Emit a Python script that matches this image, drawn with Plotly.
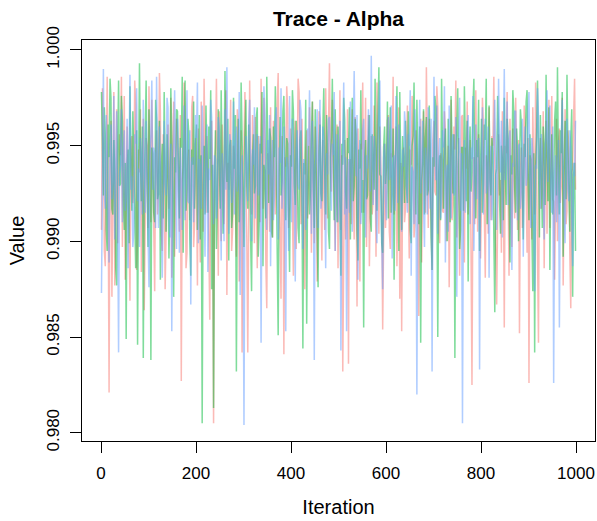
import plotly.graph_objects as go


# %%%%%%%%%%%%%%%%%%%%%%%%%%%%%%%%%
# Trace plot of alpha, 3 chains (every 2nd iteration)

iterations = list(range(1, 1001, 2))

chain_1 = [
    0.9906, 0.9980, 0.9951, 0.9895, 0.9887, 0.9964, 0.9986, 0.9926, 0.9821, 0.9946, 0.9963, 0.9871, 0.9930, 0.9978, 0.9877, 0.9941, 0.9969, 0.9899, 0.9922, 0.9956,
    0.9945, 0.9986, 0.9897, 0.9934, 0.9976, 0.9880, 0.9915, 0.9960, 0.9938, 0.9906, 0.9869, 0.9953, 0.9955, 0.9920, 0.9927, 0.9984, 0.9971, 0.9885, 0.9901, 0.9948,
    0.9936, 0.9969, 0.9884, 0.9925, 0.9964, 0.9864, 0.9917, 0.9954, 0.9950, 0.9907, 0.9981, 0.9929, 0.9910, 0.9974, 0.9940, 0.9890, 0.9874, 0.9945, 0.9958, 0.9914,
    0.9926, 0.9988, 0.9968, 0.9904, 0.9895, 0.9956, 0.9946, 0.9875, 0.9912, 0.9939, 0.9961, 0.9917, 0.9934, 0.9975, 0.9881, 0.9949, 0.9973, 0.9892, 0.9921, 0.9964,
    0.9953, 0.9916, 0.9905, 0.9966, 0.9827, 0.9932, 0.9939, 0.9983, 0.9965, 0.9886, 0.9894, 0.9943, 0.9948, 0.9911, 0.9925, 0.9970, 0.9976, 0.9897, 0.9909, 0.9954,
    0.9932, 0.9877, 0.9959, 0.9924, 0.9889, 0.9973, 0.9943, 0.9905, 0.9985, 0.9935, 0.9915, 0.9955, 0.9936, 0.9900, 0.9859, 0.9949, 0.9963, 0.9919, 0.9805, 0.9940,
    0.9949, 0.9985, 0.9920, 0.9882, 0.9968, 0.9931, 0.9900, 0.9961, 0.9939, 0.9909, 0.9956, 0.9979, 0.9872, 0.9941, 0.9927, 0.9964, 0.9974, 0.9895, 0.9906, 0.9950,
    0.9945, 0.9916, 0.9892, 0.9969, 0.9960, 0.9879, 0.9924, 0.9958, 0.9842, 0.9938, 0.9951, 0.9978, 0.9932, 0.9901, 0.9842, 0.9948, 0.9984, 0.9927, 0.9914, 0.9966,
    0.9938, 0.9899, 0.9965, 0.9926, 0.9886, 0.9955, 0.9944, 0.9910, 0.9985, 0.9940, 0.9917, 0.9975, 0.9950, 0.9890, 0.9865, 0.9946, 0.9935, 0.9905, 0.9970, 0.9929,
    0.9902, 0.9963, 0.9946, 0.9914, 0.9925, 0.9973, 0.9988, 0.9934, 0.9911, 0.9870, 0.9955, 0.9927, 0.9841, 0.9944, 0.9939, 0.9981, 0.9969, 0.9907, 0.9921, 0.9959,
    0.9949, 0.9917, 0.9882, 0.9951, 0.9963, 0.9896, 0.9930, 0.9985, 0.9978, 0.9936, 0.9909, 0.9964, 0.9941, 0.9904, 0.9875, 0.9948, 0.9958, 0.9912, 0.9924, 0.9970,
    0.9939, 0.9894, 0.9973, 0.9927, 0.9899, 0.9960, 0.9950, 0.9879, 0.9919, 0.9968, 0.9964, 0.9922, 0.9890, 0.9953, 0.9934, 0.9906, 0.9980, 0.9940, 0.9912, 0.9961,
    0.9993, 0.9938, 0.9926, 0.9974, 0.9946, 0.9911, 0.9895, 0.9956, 0.9961, 0.9886, 0.9935, 0.9979, 0.9906, 0.9945, 0.9832, 0.9930, 0.9953, 0.9901, 0.9920, 0.9969,
    0.9836, 0.9941, 0.9943, 0.9909, 0.9969, 0.9929, 0.9901, 0.9965, 0.9938, 0.9866, 0.9959, 0.9925, 0.9879, 0.9951, 0.9948, 0.9983, 0.9915, 0.9936, 0.9975, 0.9897,
    0.9931, 0.9966, 0.9887, 0.9935, 0.9955, 0.9914, 0.9922, 0.9971, 0.9945, 0.9892, 0.9983, 0.9944, 0.9904, 0.9960, 0.9940, 0.9921, 0.9854, 0.9930, 0.9951, 0.9907,
    0.9925, 0.9963, 0.9966, 0.9905, 0.9896, 0.9946, 0.9944, 0.9986, 0.9914, 0.9927, 0.9960, 0.9887, 0.9936, 0.9970, 0.9870, 0.9941, 0.9853, 0.9934, 0.9949, 0.9910,
    0.9917, 0.9954, 0.9971, 0.9924, 0.9891, 0.9948, 0.9940, 0.9976, 0.9956, 0.9902, 0.9910, 0.9958, 0.9946, 0.9919, 0.9861, 0.9938, 0.9964, 0.9889, 0.9929, 0.9968,
    0.9950, 0.9915, 0.9991, 0.9941, 0.9907, 0.9964, 0.9936, 0.9896, 0.9885, 0.9953, 0.9963, 0.9926, 0.9924, 0.9981, 0.9970, 0.9905, 0.9899, 0.9946, 0.9943, 0.9916,
    0.9915, 0.9968, 0.9958, 0.9900, 0.9934, 0.9950, 0.9876, 0.9939, 0.9974, 0.9911, 0.9919, 0.9960, 0.9948, 0.9984, 0.9902, 0.9932, 0.9954, 0.9882, 0.9931, 0.9965,
    0.9966, 0.9925, 0.9889, 0.9949, 0.9938, 0.9973, 0.9914, 0.9941, 0.9953, 0.9895, 0.9825, 0.9930, 0.9944, 0.9909, 0.9979, 0.9939, 0.9905, 0.9956, 0.9935, 0.9891,
    0.9921, 0.9975, 0.9961, 0.9915, 0.9881, 0.9945, 0.9941, 0.9904, 0.9970, 0.9934, 0.9911, 0.9955, 0.9950, 0.9986, 0.9926, 0.9897, 0.9867, 0.9940, 0.9956, 0.9924,
    0.9932, 0.9894, 0.9968, 0.9939, 0.9855, 0.9950, 0.9946, 0.9978, 0.9916, 0.9882, 0.9964, 0.9929, 0.9897, 0.9959, 0.9940, 0.9912, 0.9975, 0.9943, 0.9906, 0.9953,
    0.9852, 0.9935, 0.9949, 0.9907, 0.9924, 0.9971, 0.9960, 0.9927, 0.9894, 0.9954, 0.9826, 0.9945, 0.9943, 0.9901, 0.9970, 0.9938, 0.9914, 0.9983, 0.9936, 0.9890,
    0.9847, 0.9944, 0.9954, 0.9917, 0.9927, 0.9968, 0.9886, 0.9938, 0.9963, 0.9904, 0.9934, 0.9974, 0.9907, 0.9949, 0.9976, 0.9922, 0.9921, 0.9880, 0.9945, 0.9964,
    0.9900, 0.9951, 0.9959, 0.9920, 0.9930, 0.9975, 0.9877, 0.9941, 0.9969, 0.9909, 0.9916, 0.9958, 0.9948, 0.9894, 0.9865, 0.9936, 0.9939, 0.9965, 0.9985, 0.9927,
]

chain_2 = [
    0.9978, 0.9950, 0.9924, 0.9970, 0.9955, 0.9906, 0.9895, 0.9961, 0.9944, 0.9985, 0.9975, 0.9917, 0.9914, 0.9953, 0.9935, 0.9886, 0.9877, 0.9946, 0.9984, 0.9929,
    0.9930, 0.9976, 0.9963, 0.9921, 0.9906, 0.9941, 0.9849, 0.9938, 0.9948, 0.9899, 0.9981, 0.9940, 0.9916, 0.9968, 0.9939, 0.9904, 0.9886, 0.9958, 0.9846, 0.9934,
    0.9993, 0.9943, 0.9921, 0.9960, 0.9839, 0.9926, 0.9954, 0.9984, 0.9932, 0.9897, 0.9969, 0.9936, 0.9838, 0.9949, 0.9946, 0.9915, 0.9910, 0.9974, 0.9964, 0.9922,
    0.9925, 0.9963, 0.9880, 0.9939, 0.9951, 0.9912, 0.9978, 0.9945, 0.9905, 0.9956, 0.9941, 0.9891, 0.9920, 0.9980, 0.9960, 0.9927, 0.9871, 0.9944, 0.9936, 0.9969,
    0.9968, 0.9934, 0.9912, 0.9954, 0.9949, 0.9986, 0.9894, 0.9943, 0.9984, 0.9916, 0.9927, 0.9964, 0.9956, 0.9901, 0.9882, 0.9948, 0.9940, 0.9973, 0.9917, 0.9951,
    0.9961, 0.9906, 0.9934, 0.9966, 0.9901, 0.9945, 0.9805, 0.9930, 0.9950, 0.9914, 0.9971, 0.9938, 0.9915, 0.9960, 0.9943, 0.9979, 0.9875, 0.9940, 0.9813, 0.9925,
    0.9958, 0.9896, 0.9922, 0.9969, 0.9945, 0.9917, 0.9979, 0.9948, 0.9904, 0.9936, 0.9989, 0.9941, 0.9931, 0.9964, 0.9890, 0.9950, 0.9953, 0.9907, 0.9914, 0.9975,
    0.9938, 0.9966, 0.9832, 0.9927, 0.9964, 0.9910, 0.9926, 0.9983, 0.9948, 0.9939, 0.9897, 0.9955, 0.9974, 0.9929, 0.9917, 0.9961, 0.9941, 0.9902, 0.9874, 0.9944,
    0.9956, 0.9925, 0.9929, 0.9965, 0.9970, 0.9892, 0.9909, 0.9951, 0.9946, 0.9978, 0.9887, 0.9940, 0.9936, 0.9912, 0.9986, 0.9949, 0.9920, 0.9959, 0.9954, 0.9905,
    0.9902, 0.9960, 0.9944, 0.9981, 0.9925, 0.9895, 0.9851, 0.9934, 0.9965, 0.9924, 0.9932, 0.9968, 0.9976, 0.9943, 0.9911, 0.9954, 0.9951, 0.9915, 0.9884, 0.9945,
    0.9939, 0.9979, 0.9968, 0.9930, 0.9919, 0.9963, 0.9948, 0.9907, 0.9899, 0.9953, 0.9958, 0.9924, 0.9844, 0.9941, 0.9935, 0.9974, 0.9857, 0.9931, 0.9950, 0.9914,
    0.9927, 0.9955, 0.9973, 0.9934, 0.9907, 0.9969, 0.9941, 0.9897, 0.9876, 0.9946, 0.9961, 0.9925, 0.9921, 0.9958, 0.9980, 0.9936, 0.9914, 0.9966, 0.9945, 0.9905,
    0.9896, 0.9944, 0.9954, 0.9985, 0.9931, 0.9911, 0.9969, 0.9938, 0.9910, 0.9960, 0.9949, 0.9916, 0.9882, 0.9951, 0.9940, 0.9975, 0.9964, 0.9926, 0.9917, 0.9954,
    0.9946, 0.9970, 0.9901, 0.9940, 0.9975, 0.9921, 0.9929, 0.9964, 0.9956, 0.9906, 0.9890, 0.9948, 0.9938, 0.9979, 0.9915, 0.9932, 0.9855, 0.9943, 0.9953, 0.9922,
    0.9924, 0.9951, 0.9966, 0.9912, 0.9905, 0.9956, 0.9945, 0.9927, 0.9985, 0.9939, 0.9916, 0.9963, 0.9991, 0.9935, 0.9934, 0.9899, 0.9894, 0.9949, 0.9960, 0.9930,
    0.9939, 0.9973, 0.9912, 0.9946, 0.9970, 0.9915, 0.9926, 0.9959, 0.9880, 0.9938, 0.9951, 0.9981, 0.9930, 0.9895, 0.9978, 0.9941, 0.9906, 0.9955, 0.9944, 0.9920,
    0.9963, 0.9929, 0.9920, 0.9968, 0.9948, 0.9906, 0.9899, 0.9950, 0.9955, 0.9983, 0.9936, 0.9914, 0.9974, 0.9943, 0.9909, 0.9960, 0.9847, 0.9932, 0.9941, 0.9969,
    0.9914, 0.9954, 0.9965, 0.9924, 0.9927, 0.9971, 0.9950, 0.9902, 0.9885, 0.9944, 0.9939, 0.9976, 0.9969, 0.9930, 0.9850, 0.9936, 0.9945, 0.9911, 0.9985, 0.9948,
    0.9917, 0.9951, 0.9959, 0.9929, 0.9900, 0.9964, 0.9941, 0.9910, 0.9976, 0.9938, 0.9925, 0.9956, 0.9839, 0.9934, 0.9954, 0.9980, 0.9932, 0.9896, 0.9906, 0.9949,
    0.9949, 0.9916, 0.9981, 0.9940, 0.9921, 0.9963, 0.9879, 0.9945, 0.9960, 0.9926, 0.9936, 0.9969, 0.9985, 0.9931, 0.9912, 0.9953, 0.9944, 0.9974, 0.9895, 0.9939,
    0.9964, 0.9915, 0.9930, 0.9961, 0.9953, 0.9985, 0.9909, 0.9941, 0.9971, 0.9932, 0.9924, 0.9954, 0.9946, 0.9904, 0.9863, 0.9935, 0.9938, 0.9976, 0.9958, 0.9921,
    0.9904, 0.9950, 0.9943, 0.9911, 0.9975, 0.9936, 0.9919, 0.9964, 0.9954, 0.9925, 0.9889, 0.9945, 0.9935, 0.9979, 0.9968, 0.9927, 0.9915, 0.9959, 0.9948, 0.9900,
    0.9927, 0.9969, 0.9961, 0.9917, 0.9901, 0.9951, 0.9944, 0.9973, 0.9979, 0.9932, 0.9911, 0.9956, 0.9940, 0.9907, 0.9874, 0.9946, 0.9842, 0.9939, 0.9955, 0.9984,
    0.9934, 0.9902, 0.9966, 0.9930, 0.9907, 0.9960, 0.9950, 0.9919, 0.9987, 0.9943, 0.9921, 0.9970, 0.9885, 0.9936, 0.9956, 0.9914, 0.9929, 0.9963, 0.9973, 0.9924,
    0.9991, 0.9940, 0.9914, 0.9958, 0.9946, 0.9978, 0.9892, 0.9938, 0.9963, 0.9922, 0.9987, 0.9949, 0.9926, 0.9905, 0.9953, 0.9969, 0.9871, 0.9935, 0.9941, 0.9895,
]

chain_3 = [
    0.9873, 0.9939, 0.9990, 0.9925, 0.9917, 0.9966, 0.9948, 0.9909, 0.9889, 0.9950, 0.9961, 0.9922, 0.9931, 0.9976, 0.9901, 0.9941, 0.9968, 0.9915, 0.9842, 0.9935,
    0.9940, 0.9969, 0.9910, 0.9946, 0.9958, 0.9916, 0.9925, 0.9964, 0.9886, 0.9943, 0.9987, 0.9927, 0.9934, 0.9897, 0.9905, 0.9956, 0.9951, 0.9980, 0.9921, 0.9938,
    0.9897, 0.9954, 0.9945, 0.9914, 0.9974, 0.9936, 0.9915, 0.9963, 0.9938, 0.9904, 0.9876, 0.9944, 0.9956, 0.9984, 0.9927, 0.9949, 0.9946, 0.9907, 0.9986, 0.9932,
    0.9907, 0.9960, 0.9941, 0.9920, 0.9881, 0.9948, 0.9963, 0.9930, 0.9924, 0.9975, 0.9970, 0.9912, 0.9902, 0.9951, 0.9853, 0.9936, 0.9949, 0.9979, 0.9930, 0.9896,
    0.9964, 0.9931, 0.9894, 0.9949, 0.9935, 0.9906, 0.9953, 0.9971, 0.9911, 0.9940, 0.9979, 0.9921, 0.9920, 0.9958, 0.9867, 0.9941, 0.9944, 0.9910, 0.9926, 0.9966,
    0.9954, 0.9983, 0.9899, 0.9943, 0.9939, 0.9917, 0.9971, 0.9950, 0.9916, 0.9892, 0.9948, 0.9961, 0.9884, 0.9938, 0.9932, 0.9974, 0.9965, 0.9925, 0.9909, 0.9945,
    0.9943, 0.9912, 0.9922, 0.9965, 0.9959, 0.9935, 0.9890, 0.9946, 0.9936, 0.9900, 0.9969, 0.9927, 0.9991, 0.9941, 0.9904, 0.9956, 0.9950, 0.9920, 0.9929, 0.9973,
    0.9914, 0.9951, 0.9960, 0.9926, 0.9938, 0.9978, 0.9872, 0.9934, 0.9945, 0.9905, 0.9804, 0.9929, 0.9955, 0.9939, 0.9921, 0.9963, 0.9974, 0.9940, 0.9900, 0.9948,
    0.9940, 0.9970, 0.9912, 0.9944, 0.9956, 0.9924, 0.9929, 0.9955, 0.9847, 0.9932, 0.9946, 0.9981, 0.9966, 0.9917, 0.9906, 0.9953, 0.9935, 0.9966, 0.9887, 0.9941,
    0.9953, 0.9911, 0.9924, 0.9963, 0.9970, 0.9939, 0.9901, 0.9949, 0.9941, 0.9980, 0.9917, 0.9931, 0.9960, 0.9907, 0.9853, 0.9944, 0.9936, 0.9895, 0.9976, 0.9927,
    0.9910, 0.9964, 0.9944, 0.9922, 0.9879, 0.9948, 0.9958, 0.9930, 0.9927, 0.9974, 0.9968, 0.9936, 0.9896, 0.9943, 0.9939, 0.9906, 0.9915, 0.9959, 0.9950, 0.9979,
    0.9931, 0.9904, 0.9963, 0.9940, 0.9838, 0.9938, 0.9946, 0.9969, 0.9907, 0.9951, 0.9974, 0.9917, 0.9925, 0.9960, 0.9954, 0.9927, 0.9886, 0.9946, 0.9935, 0.9964,
    0.9965, 0.9936, 0.9916, 0.9951, 0.9945, 0.9978, 0.9895, 0.9941, 0.9956, 0.9910, 0.9929, 0.9963, 0.9843, 0.9934, 0.9949, 0.9983, 0.9914, 0.9944, 0.9853, 0.9930,
    0.9943, 0.9915, 0.9973, 0.9939, 0.9905, 0.9954, 0.9989, 0.9948, 0.9934, 0.9966, 0.9880, 0.9938, 0.9953, 0.9909, 0.9922, 0.9958, 0.9964, 0.9929, 0.9902, 0.9945,
    0.9938, 0.9969, 0.9959, 0.9926, 0.9997, 0.9941, 0.9919, 0.9955, 0.9948, 0.9914, 0.9899, 0.9950, 0.9968, 0.9984, 0.9930, 0.9902, 0.9875, 0.9944, 0.9951, 0.9921,
    0.9911, 0.9946, 0.9965, 0.9932, 0.9934, 0.9971, 0.9891, 0.9940, 0.9945, 0.9916, 0.9976, 0.9943, 0.9920, 0.9961, 0.9955, 0.9925, 0.9905, 0.9948, 0.9939, 0.9968,
    0.9960, 0.9929, 0.9915, 0.9956, 0.9950, 0.9979, 0.9882, 0.9939, 0.9936, 0.9909, 0.9969, 0.9935, 0.9820, 0.9927, 0.9944, 0.9974, 0.9925, 0.9951, 0.9963, 0.9919,
    0.9897, 0.9949, 0.9941, 0.9914, 0.9970, 0.9938, 0.9917, 0.9964, 0.9832, 0.9935, 0.9986, 0.9945, 0.9932, 0.9971, 0.9904, 0.9943, 0.9954, 0.9912, 0.9924, 0.9958,
    0.9949, 0.9981, 0.9889, 0.9936, 0.9940, 0.9905, 0.9971, 0.9941, 0.9912, 0.9953, 0.9956, 0.9924, 0.9929, 0.9965, 0.9871, 0.9939, 0.9948, 0.9975, 0.9916, 0.9946,
    0.9805, 0.9931, 0.9953, 0.9915, 0.9926, 0.9958, 0.9966, 0.9938, 0.9909, 0.9949, 0.9943, 0.9976, 0.9895, 0.9940, 0.9961, 0.9922, 0.9935, 0.9954, 0.9833, 0.9934,
    0.9946, 0.9970, 0.9914, 0.9941, 0.9964, 0.9925, 0.9930, 0.9960, 0.9881, 0.9936, 0.9950, 0.9911, 0.9922, 0.9955, 0.9974, 0.9944, 0.9906, 0.9939, 0.9985, 0.9951,
    0.9936, 0.9963, 0.9902, 0.9948, 0.9990, 0.9932, 0.9944, 0.9973, 0.9919, 0.9953, 0.9958, 0.9915, 0.9885, 0.9941, 0.9939, 0.9968, 0.9968, 0.9929, 0.9911, 0.9950,
    0.9951, 0.9917, 0.9927, 0.9964, 0.9892, 0.9943, 0.9960, 0.9929, 0.9934, 0.9969, 0.9978, 0.9935, 0.9907, 0.9954, 0.9946, 0.9912, 0.9874, 0.9940, 0.9938, 0.9980,
    0.9965, 0.9934, 0.9917, 0.9956, 0.9949, 0.9921, 0.9901, 0.9948, 0.9955, 0.9979, 0.9931, 0.9951, 0.9971, 0.9926, 0.9915, 0.9960, 0.9826, 0.9936, 0.9945, 0.9910,
    0.9925, 0.9953, 0.9855, 0.9930, 0.9956, 0.9974, 0.9939, 0.9906, 0.9899, 0.9946, 0.9964, 0.9927, 0.9921, 0.9958, 0.9948, 0.9914, 0.9887, 0.9941, 0.9934, 0.9963,
]

chains = [chain_1, chain_2, chain_3]
# ggplot hue colours, semi transparent
chain_colors = ["rgba(248,118,109,0.5)", "rgba(0,186,56,0.5)", "rgba(97,156,255,0.5)"]

x_ticks = [0, 200, 400, 600, 800, 1000]
y_ticks = [0.980, 0.985, 0.990, 0.995, 1.000]
y_tick_labels = ["0.980", "0.985", "0.990", "0.995", "1.000"]

# %%%%%%%%%%%%%%%%%%%%%% line plot
fig = go.Figure()
for i, chain in enumerate(chains):
    fig.add_trace(go.Scatter(
        x=iterations,
        y=chain,
        mode="lines",
        line=dict(color=chain_colors[i], width=1.5),
        showlegend=False,
        hoverinfo="skip",
    ))

# base R look: white, boxed, no grid
fig.update_layout(
    width=597,
    height=521,
    margin=dict(l=82, r=2, t=40, b=80),
    plot_bgcolor="white",
    paper_bgcolor="white",
    font=dict(family="Liberation Sans", size=17, color="black"),
    title=dict(
        text="<b>Trace - Alpha</b>",
        font=dict(size=21, color="black"),
        x=0.5, xref="paper", xanchor="center",
        y=1 - 19 / 521, yref="container", yanchor="middle",
    ),
)
fig.update_xaxes(
    range=[-40, 1040],
    tickmode="array", tickvals=x_ticks,
    ticks="outside", ticklen=11, tickcolor="black", ticklabelstandoff=6,
    showline=True, linecolor="black", linewidth=1, mirror=True,
    showgrid=False, zeroline=False,
    title=dict(text="Iteration", standoff=17),
)
fig.update_yaxes(
    range=[0.97957, 1.00052],
    tickmode="array", tickvals=y_ticks, ticktext=y_tick_labels, tickangle=-90,
    ticks="outside", ticklen=11, tickcolor="black", ticklabelstandoff=4,
    showline=True, linecolor="black", linewidth=1, mirror=True,
    showgrid=False, zeroline=False,
    title=dict(text="Value", standoff=14),
)

# drop the page's default body margin so the figure fills the window
fig.write_html(
    "out.html",
    config={"displayModeBar": False},
    post_script="document.body.style.margin='0px';document.body.style.overflow='hidden';",
)
